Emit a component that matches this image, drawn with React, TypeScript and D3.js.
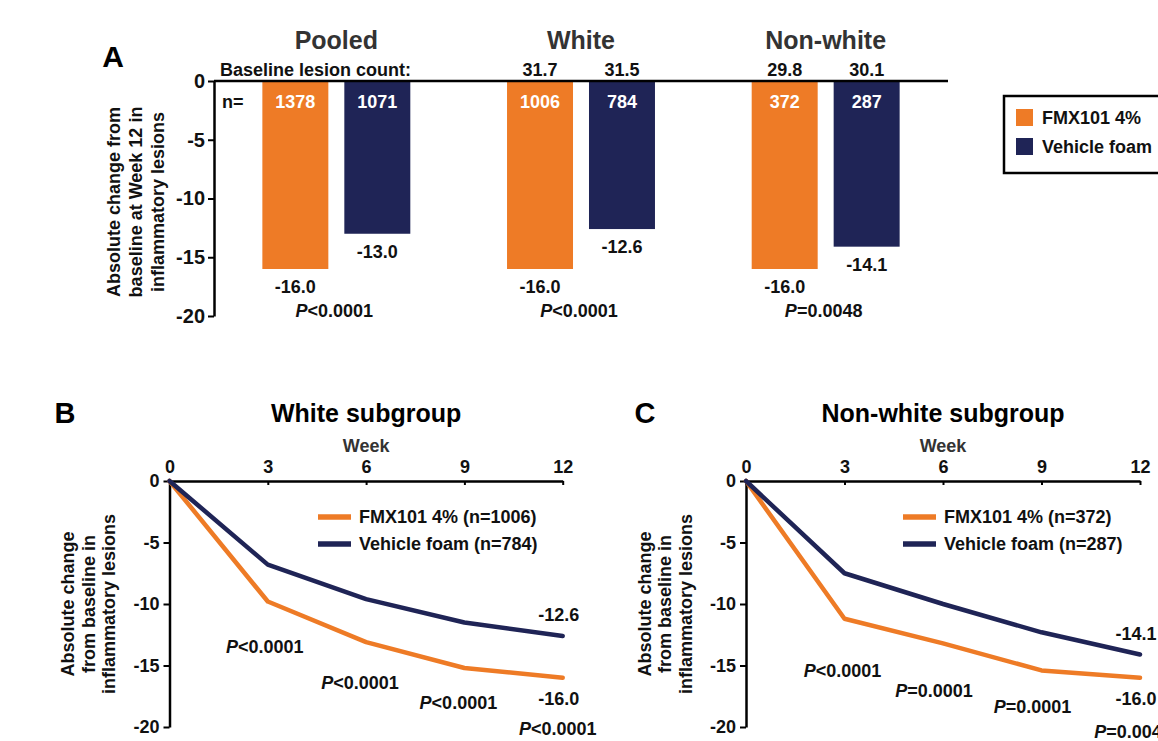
import * as d3 from 'd3';
import React, { useEffect } from 'react';

// Panel A: change at week 12 by subgroup
const groups = ['Pooled', 'White', 'Non-white'];
const treatments = ['FMX101 4%', 'Vehicle foam'];
const changeFmx = [-16.0, -16.0, -16.0];
const changeVehicle = [-13.0, -12.6, -14.1];
const nFmx = [1378, 1006, 372];
const nVehicle = [1071, 784, 287];
const baselineFmx = [null, 31.7, 29.8];
const baselineVehicle = [null, 31.5, 30.1];
const pValuesA = ['<0.0001', '<0.0001', '=0.0048'];

// Panels B and C: change over time
const weeks = [0, 3, 6, 9, 12];
const whiteFmx = [0, -9.8, -13.1, -15.2, -16.0];
const whiteVehicle = [0, -6.8, -9.6, -11.5, -12.6];
const whitePValues = ['<0.0001', '<0.0001', '<0.0001', '<0.0001'];
const nonWhiteFmx = [0, -11.2, -13.2, -15.4, -16.0];
const nonWhiteVehicle = [0, -7.5, -10.0, -12.3, -14.1];
const nonWhitePValues = ['<0.0001', '=0.0001', '=0.0001', '=0.0048'];
const yTicks = [0, -5, -10, -15, -20];

const ORANGE = '#EE7B26';
const NAVY = '#1F2456';
const FONT = '"Liberation Sans", Arial, Helvetica, sans-serif';

type Sel = d3.Selection<SVGGElement, unknown, null, undefined>;

function text(g: Sel, x: number, y: number, s: string, size = 18, anchor = 'middle', fill = '#111') {
  return g
    .append('text')
    .attr('x', x)
    .attr('y', y)
    .attr('dy', '0.35em')
    .attr('text-anchor', anchor)
    .attr('font-size', size)
    .attr('font-weight', 'bold')
    .attr('fill', fill)
    .text(s);
}

function pText(g: Sel, x: number, y: number, p: string, anchor = 'middle') {
  const t = g
    .append('text')
    .attr('x', x)
    .attr('y', y)
    .attr('dy', '0.35em')
    .attr('text-anchor', anchor)
    .attr('font-size', 18)
    .attr('font-weight', 'bold')
    .attr('fill', '#111');
  t.append('tspan').attr('font-style', 'italic').text('P');
  t.append('tspan').text(p);
}

function styleAxis(a: Sel, size = 18) {
  a.attr('font-family', FONT).attr('font-size', size).attr('font-weight', 'bold');
  a.selectAll('path.domain').attr('stroke', '#000').attr('stroke-width', 2.5);
  a.selectAll('.tick line').attr('stroke', '#000').attr('stroke-width', 2);
  a.selectAll('.tick text').attr('fill', '#111');
}

function drawLinePanel(
  root: Sel,
  cfg: {
    letter: string;
    letterX: number;
    title: string;
    left: number;
    right: number;
    fmx: number[];
    vehicle: number[];
    pValues: string[];
    pLayout: [number, number][];
    legendX: number;
    nF: number;
    nV: number;
  }
) {
  const g = root.append('g');
  const x = d3.scaleLinear().domain([0, 12]).range([cfg.left, cfg.right]);
  const y = d3.scaleLinear().domain([-20, 0]).range([727, 481]);

  text(g, cfg.letterX, 413, cfg.letter, 29, 'middle', '#000');
  const mid = (cfg.left + cfg.right) / 2;
  text(g, mid, 413, cfg.title, 25, 'middle', '#000');
  text(g, mid, 446, 'Week', 18, 'middle', '#333');

  const xa = g
    .append('g')
    .attr('transform', `translate(0,${y(0)})`)
    .call(
      d3
        .axisTop(x)
        .tickValues(weeks)
        .tickSizeInner(-4)
        .tickSizeOuter(0)
        .tickPadding(8)
        .tickFormat(d => String(d))
    );
  styleAxis(xa);
  xa.selectAll('.tick text').attr('dy', '0em');

  const ya = g
    .append('g')
    .attr('transform', `translate(${cfg.left},0)`)
    .call(
      d3
        .axisLeft(y)
        .tickValues(yTicks)
        .tickSize(6)
        .tickSizeOuter(0)
        .tickPadding(4)
        .tickFormat(d => String(d))
    );
  styleAxis(ya);

  const yl = g
    .append('text')
    .attr('transform', `translate(${cfg.left - 81},604) rotate(-90)`)
    .attr('text-anchor', 'middle')
    .attr('font-size', 18)
    .attr('font-weight', 'bold')
    .attr('fill', '#111');
  ['Absolute change', 'from baseline in', 'inflammatory lesions'].forEach((s, i) => {
    yl.append('tspan').attr('x', 0).attr('y', (i - 1) * 20.5).attr('dy', '0.35em').text(s);
  });

  const line = d3
    .line<number>()
    .x((_, i) => x(weeks[i]))
    .y(d => y(d));
  [
    [cfg.fmx, ORANGE],
    [cfg.vehicle, NAVY],
  ].forEach(([vals, color]) => {
    g.append('path')
      .datum(vals as number[])
      .attr('fill', 'none')
      .attr('stroke', color as string)
      .attr('stroke-width', 4.5)
      .attr('stroke-linejoin', 'round')
      .attr('stroke-linecap', 'round')
      .attr('d', line);
  });

  // legend
  [
    [`FMX101 4% (n=${cfg.nF})`, ORANGE, 517],
    [`Vehicle foam (n=${cfg.nV})`, NAVY, 544],
  ].forEach(([label, color, ly]) => {
    g.append('line')
      .attr('x1', cfg.legendX)
      .attr('x2', cfg.legendX + 33)
      .attr('y1', ly as number)
      .attr('y2', ly as number)
      .attr('stroke', color as string)
      .attr('stroke-width', 5.5);
    text(g, cfg.legendX + 41, ly as number, label as string, 18, 'start');
  });

  // end values
  const last = weeks.length - 1;
  text(g, x(12) - 4, y(cfg.vehicle[last]) - 21, cfg.vehicle[last].toFixed(1));
  text(g, x(12) - 4, y(cfg.fmx[last]) + 21, cfg.fmx[last].toFixed(1));

  // p values per visit
  cfg.pValues.forEach((p, i) => {
    const [dx, py] = cfg.pLayout[i];
    pText(g, x(weeks[i + 1]) + dx, py, p);
  });
}

export default function App() {
  const ref = React.useRef<SVGSVGElement>(null);

  useEffect(() => {
    if (!ref.current) return;
    const svg = d3.select(ref.current);
    svg.selectAll('*').remove();
    const root = svg.append('g').attr('font-family', FONT) as unknown as Sel;

    // ---------- Panel A ----------
    const x0 = d3.scaleBand().domain(groups).range([214, 948]);
    const x1 = d3
      .scaleBand()
      .domain(treatments)
      .range([0, x0.bandwidth()])
      .paddingInner(0.195)
      .paddingOuter(0.59);
    const yA = d3.scaleLinear().domain([-20, 0]).range([316, 81]);

    text(root, 113, 56, 'A', 30, 'middle', '#000');

    groups.forEach((grp, gi) => {
      const cx = x0(grp)! + x0.bandwidth() / 2;
      text(root, cx, 40, grp, 25, 'middle', '#333');
      const rows = [
        { t: treatments[0], v: changeFmx[gi], n: nFmx[gi], b: baselineFmx[gi], c: ORANGE },
        { t: treatments[1], v: changeVehicle[gi], n: nVehicle[gi], b: baselineVehicle[gi], c: NAVY },
      ];
      rows.forEach(r => {
        const bx = x0(grp)! + x1(r.t)!;
        const bc = bx + x1.bandwidth() / 2;
        root
          .append('rect')
          .attr('x', bx)
          .attr('y', yA(0))
          .attr('width', x1.bandwidth())
          .attr('height', yA(r.v) - yA(0))
          .attr('fill', r.c);
        text(root, bc, 101.7, String(r.n), 18, 'middle', '#fff');
        text(root, bc, yA(r.v) + 18, r.v.toFixed(1));
        if (r.b !== null) text(root, bc, 70, r.b.toFixed(1));
      });
      pText(root, cx - 2, 311, pValuesA[gi]);
    });

    text(root, 220, 70, 'Baseline lesion count:', 18, 'start');
    text(root, 222, 101.7, 'n=', 18, 'start');

    root
      .append('line')
      .attr('x1', 214)
      .attr('x2', 948)
      .attr('y1', yA(0))
      .attr('y2', yA(0))
      .attr('stroke', '#000')
      .attr('stroke-width', 2.5);

    const yaA = root
      .append('g')
      .attr('transform', 'translate(214,0)')
      .call(
        d3
          .axisLeft(yA)
          .tickValues(yTicks)
          .tickSize(6)
          .tickSizeOuter(0)
          .tickPadding(3)
          .tickFormat(d => String(d))
      );
    styleAxis(yaA, 20);

    const ylA = root
      .append('text')
      .attr('transform', 'translate(136,202) rotate(-90)')
      .attr('text-anchor', 'middle')
      .attr('font-size', 18)
      .attr('font-weight', 'bold')
      .attr('fill', '#111');
    ['Absolute change from', 'baseline at Week 12 in', 'inflammatory lesions'].forEach((s, i) => {
      ylA.append('tspan').attr('x', 0).attr('y', (i - 1) * 22).attr('dy', '0.35em').text(s);
    });

    // legend A
    root
      .append('rect')
      .attr('x', 1004)
      .attr('y', 96)
      .attr('width', 175)
      .attr('height', 77)
      .attr('fill', '#fff')
      .attr('stroke', '#000')
      .attr('stroke-width', 2.5);
    treatments.forEach((t, i) => {
      const ly = 117.5 + i * 29;
      root
        .append('rect')
        .attr('x', 1016)
        .attr('y', ly - 8.5)
        .attr('width', 17)
        .attr('height', 17)
        .attr('fill', i === 0 ? ORANGE : NAVY);
      text(root, 1042, ly, t, 18, 'start');
    });

    // ---------- Panel B ----------
    drawLinePanel(root, {
      letter: 'B',
      letterX: 65,
      title: 'White subgroup',
      left: 169.5,
      right: 562.7,
      fmx: whiteFmx,
      vehicle: whiteVehicle,
      pValues: whitePValues,
      pLayout: [
        [-3, 647],
        [-6, 683],
        [-6, 703],
        [-5, 729],
      ],
      legendX: 318,
      nF: nFmx[1],
      nV: nVehicle[1],
    });

    // ---------- Panel C ----------
    drawLinePanel(root, {
      letter: 'C',
      letterX: 645,
      title: 'Non-white subgroup',
      left: 746,
      right: 1140,
      fmx: nonWhiteFmx,
      vehicle: nonWhiteVehicle,
      pValues: nonWhitePValues,
      pLayout: [
        [-2, 671],
        [-9, 691],
        [-9, 707],
        [-7, 732],
      ],
      legendX: 903,
      nF: nFmx[2],
      nV: nVehicle[2],
    });
  }, []);

  return (
    <svg
      ref={ref}
      width={1158}
      height={741}
      style={{ position: 'absolute', left: 0, top: 0, background: '#fff' }}
    />
  );
}
